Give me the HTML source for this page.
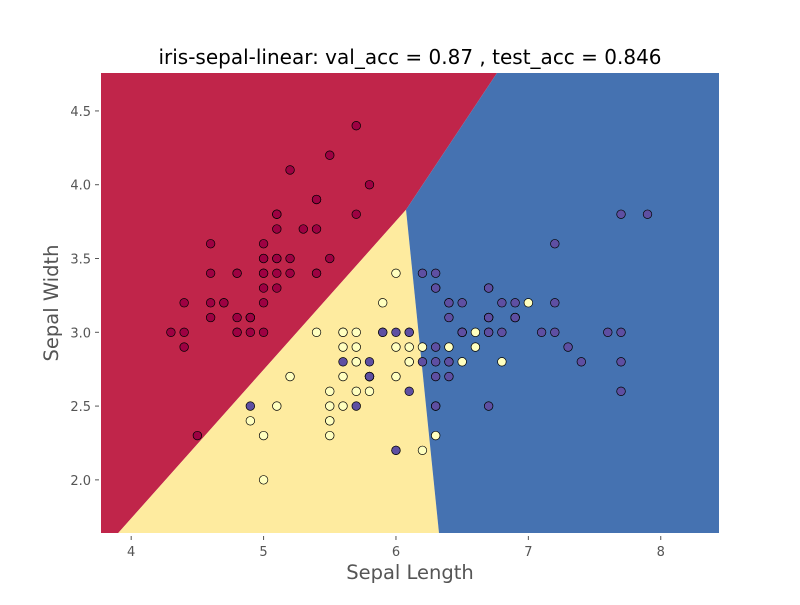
<!DOCTYPE html>
<html><head><meta charset="utf-8"><style>
body{margin:0;background:#fff;}
svg text{font-family:"DejaVu Sans","Liberation Sans",sans-serif;}
</style></head><body>
<svg id="chart" width="800" height="600">
<text x="410" y="64" text-anchor="middle" font-size="20" fill="#000">iris-sepal-linear: val_acc = 0.87 , test_acc = 0.846</text>
<g id="regions"></g>
<g id="axes"></g>
<g id="points"></g>
<text x="410" y="579" text-anchor="middle" font-size="19.5" fill="#555">Sepal Length</text>
<text transform="translate(58,303) rotate(-90)" text-anchor="middle" font-size="19.5" fill="#555">Sepal Width</text>
</svg>
<script>
const xTicks=[4,5,6,7,8];
const yTicks=[2.0,2.5,3.0,3.5,4.0,4.5];
const xDomain=[3.772,8.44];
const yDomain=[1.64,4.757];
// decision boundary vertices (data coords)
const junction=[6.076,3.83];
const redYellowEnd=[3.902,1.64];
const redBlueEnd=[6.763,4.757];
const yellowBlueEnd=[6.325,1.64];
const setosa=[[5.1,3.5],[4.9,3.0],[4.7,3.2],[4.6,3.1],[5.0,3.6],[5.4,3.9],[4.6,3.4],[5.0,3.4],[4.4,2.9],[4.9,3.1],[5.4,3.7],[4.8,3.4],[4.8,3.0],[4.3,3.0],[5.8,4.0],[5.7,4.4],[5.4,3.9],[5.1,3.5],[5.7,3.8],[5.1,3.8],[5.4,3.4],[5.1,3.7],[4.6,3.6],[5.1,3.3],[4.8,3.4],[5.0,3.0],[5.0,3.4],[5.2,3.5],[5.2,3.4],[4.7,3.2],[4.8,3.1],[5.4,3.4],[5.2,4.1],[5.5,4.2],[4.9,3.1],[5.0,3.2],[5.5,3.5],[4.9,3.1],[4.4,3.0],[5.1,3.4],[5.0,3.5],[4.5,2.3],[4.4,3.2],[5.0,3.5],[5.1,3.8],[4.8,3.0],[5.1,3.8],[4.6,3.2],[5.3,3.7],[5.0,3.3]];
const versicolor=[[7.0,3.2],[6.4,3.2],[6.9,3.1],[5.5,2.3],[6.5,2.8],[5.7,2.8],[6.3,3.3],[4.9,2.4],[6.6,2.9],[5.2,2.7],[5.0,2.0],[5.9,3.0],[6.0,2.2],[6.1,2.9],[5.6,2.9],[6.7,3.1],[5.6,3.0],[5.8,2.7],[6.2,2.2],[5.6,2.5],[5.9,3.2],[6.1,2.8],[6.3,2.5],[6.1,2.8],[6.4,2.9],[6.6,3.0],[6.8,2.8],[6.7,3.0],[6.0,2.9],[5.7,2.6],[5.5,2.4],[5.5,2.4],[5.8,2.7],[6.0,2.7],[5.4,3.0],[6.0,3.4],[6.7,3.1],[6.3,2.3],[5.6,3.0],[5.5,2.5],[5.5,2.6],[6.1,3.0],[5.8,2.6],[5.0,2.3],[5.6,2.7],[5.7,3.0],[5.7,2.9],[6.2,2.9],[5.1,2.5],[5.7,2.8]];
const virginica=[[6.3,3.3],[5.8,2.7],[7.1,3.0],[6.3,2.9],[6.5,3.0],[7.6,3.0],[4.9,2.5],[7.3,2.9],[6.7,2.5],[7.2,3.6],[6.5,3.2],[6.4,2.7],[6.8,3.0],[5.7,2.5],[5.8,2.8],[6.4,3.2],[6.5,3.0],[7.7,3.8],[7.7,2.6],[6.0,2.2],[6.9,3.2],[5.6,2.8],[7.7,2.8],[6.3,2.7],[6.7,3.3],[7.2,3.2],[6.2,2.8],[6.1,3.0],[6.4,2.8],[7.2,3.0],[7.4,2.8],[7.9,3.8],[6.4,2.8],[6.3,2.8],[6.1,2.6],[7.7,3.0],[6.3,3.4],[6.4,3.1],[6.0,3.0],[6.9,3.1],[6.7,3.1],[6.9,3.1],[5.8,2.7],[6.8,3.2],[6.7,3.3],[6.7,3.0],[6.3,2.5],[6.5,3.0],[6.2,3.4],[5.9,3.0]];
const L=101,R=719,T=73,B=533;
const sx=v=>L+(v-xDomain[0])/(xDomain[1]-xDomain[0])*(R-L);
const sy=v=>B-(v-yDomain[0])/(yDomain[1]-yDomain[0])*(B-T);
const NS="http://www.w3.org/2000/svg";
function mk(tag,attrs,parent){const e=document.createElementNS(NS,tag);for(const k in attrs)e.setAttribute(k,attrs[k]);parent.appendChild(e);return e;}
const pt=p=>sx(p[0])+","+sy(p[1]);
const reg=document.getElementById('regions');
const x0=xDomain[0],x1=xDomain[1],y0=yDomain[0],y1=yDomain[1];
let r=mk('polygon',{points:[pt([x0,y0]),pt(redYellowEnd),pt(junction),pt(redBlueEnd),pt([x0,y1])].join(' '),fill:'#c0254a'},reg);


let yv=mk('polygon',{points:[pt(redYellowEnd),pt(yellowBlueEnd),pt(junction)].join(' '),fill:'#feeb9f'},reg);


let bv=mk('polygon',{points:[pt(yellowBlueEnd),pt([x1,y0]),pt([x1,y1]),pt(redBlueEnd),pt(junction)].join(' '),fill:'#4572b1'},reg);


const ax=document.getElementById('axes');
xTicks.forEach(v=>{
 const l=mk('line',{x1:sx(v),x2:sx(v),y1:B+3,y2:B+7,stroke:'#555'},ax);
 
 
 const t=mk('text',{x:sx(v),y:B+23,'text-anchor':'middle','font-size':13,fill:'#555'},ax);
 t.textContent=v;
 
 
});
yTicks.forEach(v=>{
 const l=mk('line',{x1:L-6,x2:L-2,y1:sy(v),y2:sy(v),stroke:'#555'},ax);
 
 
 const t=mk('text',{x:L-10,y:sy(v)+5,'text-anchor':'end','font-size':13,fill:'#555'},ax);
 t.textContent=v.toFixed(1);
 
 
});
const pg=document.getElementById('points');
[[setosa,'#9e0142','setosa-point'],[versicolor,'#ffffbf','versicolor-point'],[virginica,'#5e4fa2','virginica-point']].forEach(([arr,c,n])=>{
 arr.forEach(p=>{
  const e=mk('circle',{cx:sx(p[0]),cy:sy(p[1]),r:4.3,fill:c,stroke:'#000','stroke-width':0.7},pg);
  
  
 });
});
</script>
</body></html>
